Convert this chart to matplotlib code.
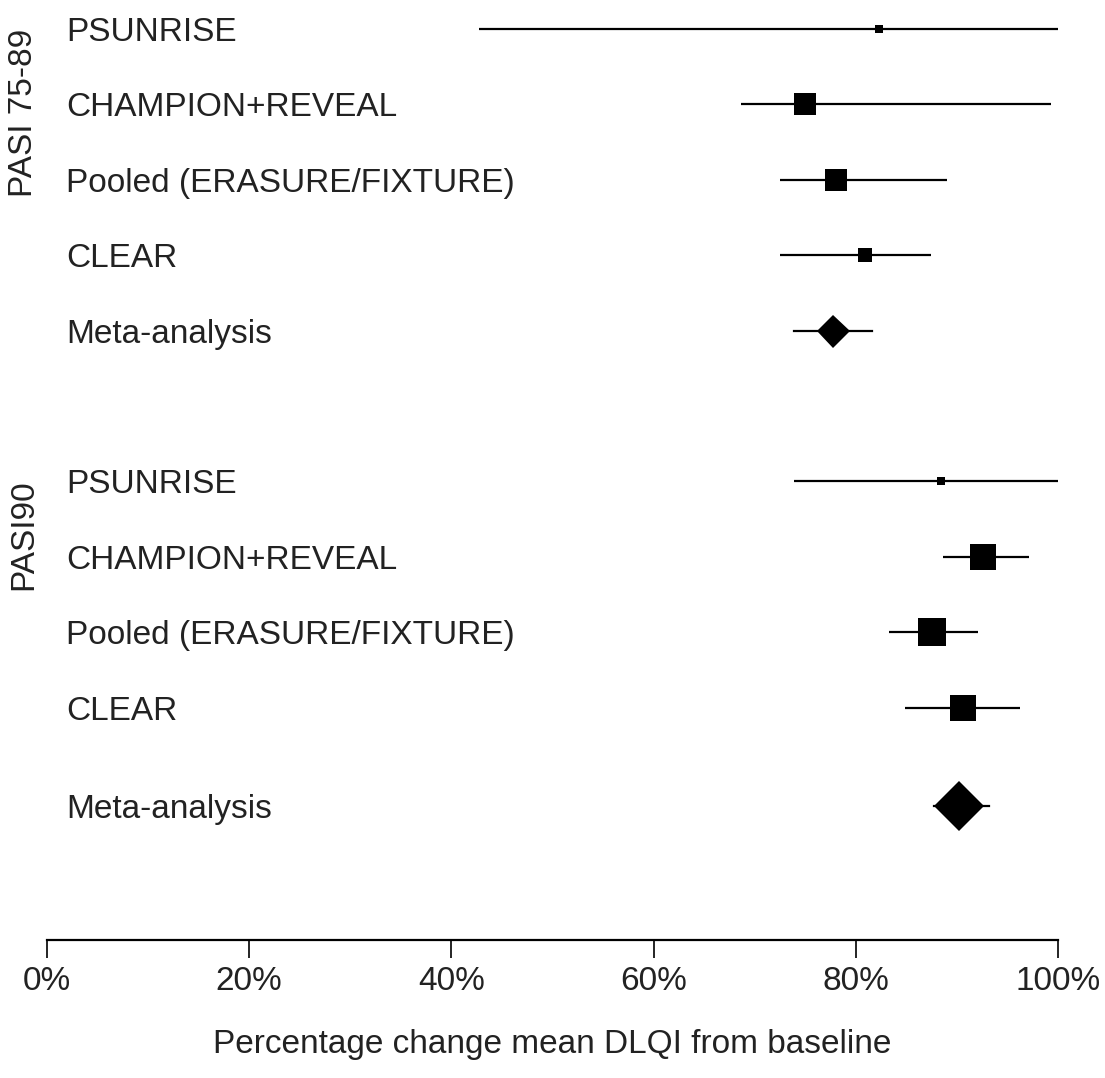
import numpy as np
import matplotlib
matplotlib.use("Agg")
import matplotlib.pyplot as plt

# ---- data ----
studies = ["PSUNRISE", "CHAMPION+REVEAL", "Pooled (ERASURE/FIXTURE)", "CLEAR"]
groups = ["PASI 75-89", "PASI90"]

est_pasi75 = [82.3, 75.0, 78.0, 80.9]
lo_pasi75 = [42.7, 68.6, 72.5, 72.5]
hi_pasi75 = [100.0, 99.3, 89.0, 87.4]
w_pasi75 = [6, 45, 45, 21]
meta_pasi75 = [77.7, 73.9, 81.6]  # est, lo, hi

est_pasi90 = [88.4, 92.6, 87.5, 90.6]
lo_pasi90 = [73.9, 88.6, 83.3, 84.9]
hi_pasi90 = [100.0, 97.1, 92.1, 96.2]
w_pasi90 = [6, 60, 78, 60]
meta_pasi90 = [90.2, 87.7, 93.2]

xticks = [0, 20, 40, 60, 80, 100]
xtick_labels = ["0%", "20%", "40%", "60%", "80%", "100%"]
xlabel = "Percentage change mean DLQI from baseline"

# ---- figure ----
W, H = 1105, 1078
DPI = 100
plt.rcParams['font.family'] = ['Liberation Sans', 'DejaVu Sans']
fig = plt.figure(figsize=(W / DPI, H / DPI), dpi=DPI)

px_row = 75.4
y0_px = 29
axis_px = 940
left_px, right_px = 47, 1058
ax = fig.add_axes([left_px / W, 1 - axis_px / H, (right_px - left_px) / W, axis_px / H])
ax.set_xlim(0, 100)
ax.set_ylim((axis_px - y0_px) / px_row, -y0_px / px_row)

PT = DPI / 72.0
text_col = "#222222"
FS = 24

def draw_group(start, est, lo, hi, w, meta, meta_row, diamond_px):
    for i, name in enumerate(studies):
        y = start + i
        ax.plot([lo[i], hi[i]], [y, y], color="black", lw=1.6, clip_on=False,
                solid_capstyle="butt")
        side = np.sqrt(w[i]) * 3.25
        ax.plot([est[i]], [y], marker="s", ms=side / PT, color="black",
                mec="black", mew=0, clip_on=False)
        ax.text(1.9, y + 0.16, name, fontsize=FS, color=text_col, va="baseline", ha="left")
    y = meta_row
    ax.plot([meta[1], meta[2]], [y, y], color="black", lw=1.6, clip_on=False)
    ax.plot([meta[0]], [y], marker="D", ms=diamond_px / np.sqrt(2) / PT, color="black",
            mew=0, clip_on=False)
    ax.text(1.9, y + 0.16, "Meta-analysis", fontsize=FS, color=text_col, va="baseline", ha="left")

draw_group(0, est_pasi75, lo_pasi75, hi_pasi75, w_pasi75, meta_pasi75, 4, 33)
draw_group(6, est_pasi90, lo_pasi90, hi_pasi90, w_pasi90, meta_pasi90, (806 - y0_px) / px_row, 50)

# group labels
fig.text(24 / W, 1 - 113 / H, groups[0], rotation=90, fontsize=FS, color=text_col,
         ha="center", va="center")
fig.text(24 / W, 1 - 535 / H, groups[1], rotation=90, fontsize=FS, color=text_col,
         ha="center", va="center")

# axis styling
for s in ["top", "right", "left"]:
    ax.spines[s].set_visible(False)
ax.spines["bottom"].set_linewidth(1.6)
ax.set_yticks([])
ax.set_xticks(xticks)
ax.set_xticklabels(xtick_labels, fontsize=FS, color=text_col)
ax.tick_params(axis="x", length=13, width=1.2, pad=6)
ax.patch.set_alpha(0)

fig.text(552 / W, 1 - 1045 / H, xlabel, fontsize=FS, color=text_col, ha="center", va="center")

fig.savefig("out.png", dpi=DPI, facecolor="white")
